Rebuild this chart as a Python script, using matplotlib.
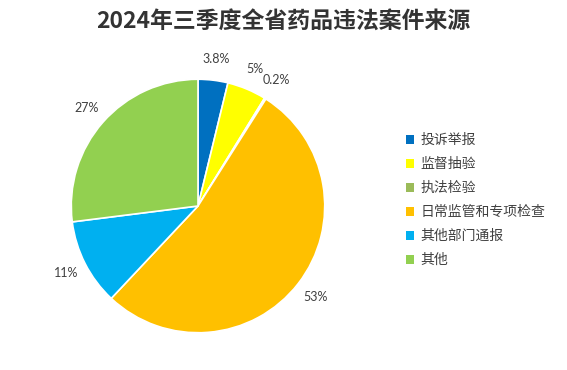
import matplotlib
matplotlib.use("Agg")
import matplotlib.pyplot as plt

plt.rcParams["font.family"] = ["Noto Sans CJK SC", "DejaVu Sans"]

# Data
categories = ["投诉举报", "监督抽验", "执法检验", "日常监管和专项检查", "其他部门通报", "其他"]
shares = [3.8, 5, 0.2, 53, 11, 27]
pct_labels = ["3.8%", "5%", "0.2%", "53%", "11%", "27%"]
colors = ["#0070C0", "#FFFF00", "#9BBB59", "#FFC000", "#00B0F0", "#92D050"]

fig = plt.figure(figsize=(5.67, 3.70), dpi=100)
ax = fig.add_axes([69 / 567, 36 / 370, 258 / 567, 256 / 370])

wedges, texts = ax.pie(
    shares,
    labels=pct_labels,
    colors=colors,
    startangle=90,
    counterclock=False,
    labeldistance=1.17,
    wedgeprops={"edgecolor": "white", "linewidth": 1.2},
    textprops={"fontsize": 9, "color": "#404040", "family": ["Lato", "DejaVu Sans"]},
)
for t in texts:
    t.set_horizontalalignment("center")
    t.set_verticalalignment("center")

ax.set_xlim(-1.01, 1.01)
ax.set_ylim(-1.01, 1.01)
ax.set_aspect("equal")

fig.text(0.5, 0.94, "2024年三季度全省药品违法案件来源", ha="center", va="center",
         fontsize=16.5, fontweight="bold", color="#333333")

leg = fig.legend(
    wedges, categories,
    loc="center left", bbox_to_anchor=(393 / 567, 170 / 370),
    frameon=False, fontsize=10, labelcolor="#404040",
    handlelength=0.6, handleheight=0.6, handletextpad=0.5,
    labelspacing=0.72,
)
for h in leg.legend_handles:
    h.set_edgecolor("none")

fig.savefig("out.png", dpi=100)
